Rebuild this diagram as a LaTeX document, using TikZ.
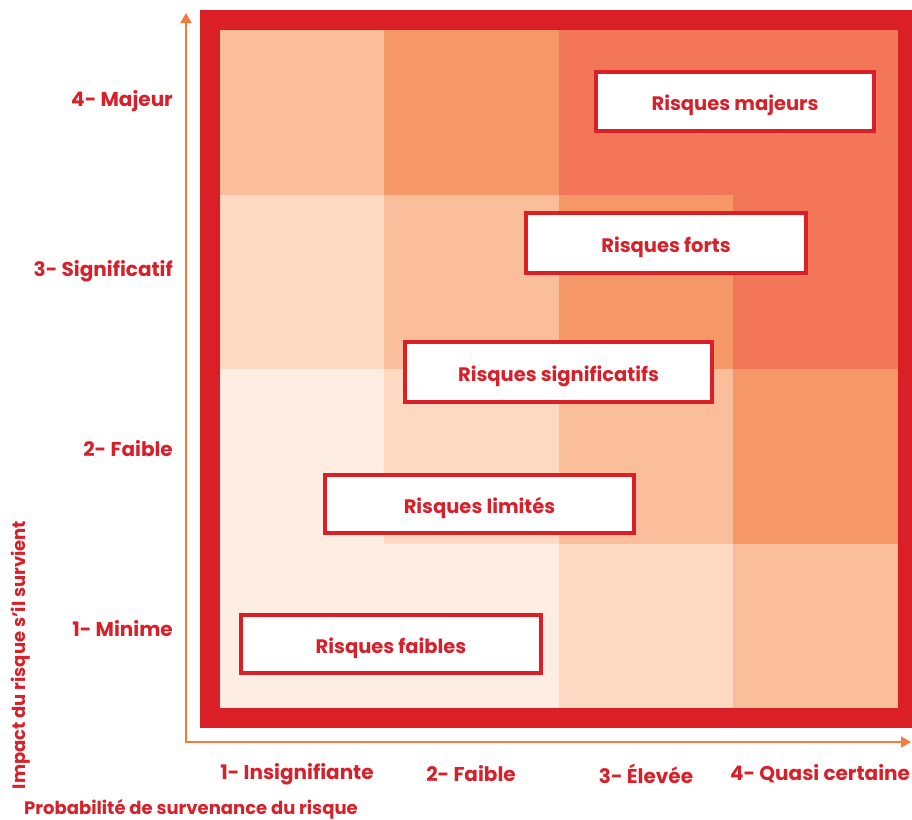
\documentclass[tikz,border=0pt]{standalone}
\usepackage{fontspec}
\setmainfont{Poppins}
\usetikzlibrary{arrows.meta}
\definecolor{frame}{HTML}{DA1F26}
\definecolor{txt}{HTML}{D7202A}
\definecolor{axis}{HTML}{F47B3E}
\definecolor{cA}{HTML}{FEEDE2}
\definecolor{cB}{HTML}{FDD9C2}
\definecolor{cC}{HTML}{FABE9A}
\definecolor{cD}{HTML}{F59767}
\definecolor{cE}{HTML}{F27657}
\tikzset{
  riskbox/.style={draw=frame, line width=4pt, fill=white, inner sep=0pt,
    text height=18.5pt, text depth=0pt,
    font=\fontsize{19.5}{22}\selectfont\bfseries, text=txt},
  axislabel/.style={font=\fontsize{20}{23}\selectfont\bfseries, text=txt, inner sep=0pt},
  titlelabel/.style={font=\fontsize{18}{21}\selectfont\bfseries, text=txt, inner sep=0pt},
  axisline/.style={draw=axis, line width=2pt, {Triangle[length=10pt,width=11pt]}-{Triangle[length=10pt,width=11pt]}}
}
\begin{document}
\begin{tikzpicture}[x=1pt,y=-1pt]
\useasboundingbox (0,0) rectangle (912,819);
% outer red frame
\fill[frame] (200,10) rectangle (912,728);
% cells: row 1
\fill[cC] (220,30) rectangle (384,195);
\fill[cD] (384,30) rectangle (559,195);
\fill[cE] (559,30) rectangle (898,195);
% row 2
\fill[cB] (220,195) rectangle (384,369);
\fill[cC] (384,195) rectangle (559,369);
\fill[cD] (559,195) rectangle (733,369);
\fill[cE] (733,195) rectangle (898,369);
% row 3
\fill[cA] (220,369) rectangle (384,544);
\fill[cB] (384,369) rectangle (559,544);
\fill[cC] (559,369) rectangle (733,544);
\fill[cD] (733,369) rectangle (898,544);
% row 4
\fill[cA] (220,544) rectangle (559,708);
\fill[cB] (559,544) rectangle (733,708);
\fill[cC] (733,544) rectangle (898,708);
% axes
\coordinate (ytop) at (186,13);
\coordinate (orig) at (186,742);
\coordinate (xend) at (911,742);
\draw[axisline] (ytop) -- (orig) -- (xend);
% boxes
\node[riskbox, minimum width=278pt, minimum height=59pt] (majeurs) at (735,101.5) {Risques majeurs};
\node[riskbox, minimum width=280pt, minimum height=60pt] (forts) at (666,243) {Risques forts};
\node[riskbox, minimum width=307pt, minimum height=60pt] (signif) at (558.5,372) {Risques significatifs};
\node[riskbox, minimum width=309pt, minimum height=58pt] (limites) at (479.5,504) {Risques limités};
\node[riskbox, minimum width=300pt, minimum height=58pt] (faibles) at (391,644) {Risques faibles};
% y labels
\node[axislabel, anchor=east] (y4) at (173,101) {4- Majeur};
\node[axislabel, anchor=east] (y3) at (173,271) {3- Significatif};
\node[axislabel, anchor=east] (y2) at (173,449) {2- Faible};
\node[axislabel, anchor=east] (y1) at (173,629) {1- Minime};
% x labels
\node[axislabel] (x1) at (297,774) {1- Insignifiante};
\node[axislabel] (x2) at (471,774) {2- Faible};
\node[axislabel] (x3) at (646,774) {3- Élevée};
\node[axislabel] (x4) at (820,774) {4- Quasi certaine};
% titles
\node[titlelabel, rotate=90] (ytitle) at (21,655) {Impact du risque s’il survient};
\node[titlelabel, anchor=west] (xtitle) at (24,809) {Probabilité de survenance du risque};
\end{tikzpicture}
\end{document}
